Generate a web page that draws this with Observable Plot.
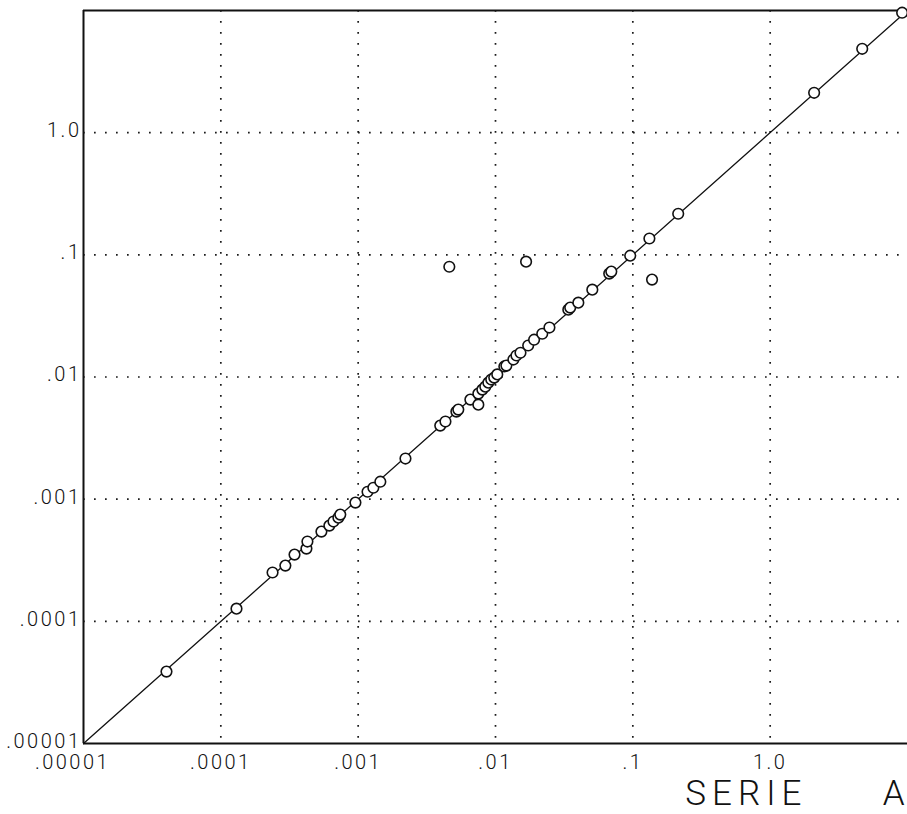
<!DOCTYPE html>
<html><head><meta charset="utf-8">
<script src="https://cdn.jsdelivr.net/npm/d3@7"></script>
<script src="https://cdn.jsdelivr.net/npm/@observablehq/plot@0.6"></script>
<style>
body{margin:0;background:#fff;}
#chart{width:907px;height:814px;overflow:hidden;}
#chart text{font-family:Roboto,"DejaVu Sans",sans-serif;font-weight:300;}
</style></head><body><div id="chart"></div>
<script>
// Series A (x) and Series B (y) values
const serieA = [4.02e-5,1.30e-4,2.38e-4,2.95e-4,3.44e-4,4.20e-4,4.27e-4,5.40e-4,6.17e-4,6.61e-4,7.18e-4,7.41e-4,
  9.55e-4,1.17e-3,1.29e-3,1.45e-3,2.21e-3,3.96e-3,4.32e-3,5.19e-3,5.36e-3,6.56e-3,7.50e-3,7.50e-3,8.02e-3,8.43e-3,
  8.87e-3,9.31e-3,9.79e-3,1.03e-2,1.16e-2,1.20e-2,1.35e-2,1.42e-2,1.52e-2,1.73e-2,1.91e-2,2.19e-2,2.47e-2,3.39e-2,
  3.50e-2,4.01e-2,5.07e-2,6.73e-2,6.97e-2,9.57e-2,0.132,0.214,2.09,4.68,9.14,
  4.61e-3,1.67e-2,0.138];
const serieB = [3.88e-5,1.27e-4,2.51e-4,2.86e-4,3.52e-4,3.94e-4,4.50e-4,5.43e-4,6.08e-4,6.56e-4,7.06e-4,7.48e-4,
  9.38e-4,1.15e-3,1.24e-3,1.39e-3,2.15e-3,4.00e-3,4.32e-3,5.21e-3,5.41e-3,6.53e-3,5.94e-3,7.31e-3,7.89e-3,8.34e-3,
  8.99e-3,9.53e-3,9.89e-3,1.05e-2,1.22e-2,1.24e-2,1.39e-2,1.50e-2,1.58e-2,1.81e-2,2.02e-2,2.26e-2,2.54e-2,3.56e-2,
  3.70e-2,4.06e-2,5.19e-2,7.02e-2,7.29e-2,9.84e-2,0.136,0.217,2.12,4.86,9.59,
  7.99e-2,8.79e-2,6.27e-2];
const tickValues = [1e-5,1e-4,1e-3,1e-2,1e-1,1];
const tickLabels = [".00001",".0001",".001",".01",".1","1.0"];
const gridValues = [1e-4,1e-3,1e-2,1e-1,1];
const axisDomain = [1e-5,10];
const identityLine = [1e-5,10];
const xTitleWord = ["SERIE"];
const xTitleLetter = ["A"];

const points = serieA.map((a,i)=>({a, b: serieB[i]}));
const fmt = d => tickLabels[tickValues.indexOf(d)];
const dotGrid = {stroke:"#1a1a1a", strokeOpacity:1, strokeWidth:1.7, strokeDasharray:"1.7,9.3"};

const chart = Plot.plot({
  width: 907, height: 814,
  marginLeft: 83, marginRight: 0, marginTop: 10, marginBottom: 71,
  x: {type:"log", domain: axisDomain},
  y: {type:"log", domain: axisDomain},
  style: {background:"#fff", color:"#111", fontFamily:"Roboto, 'DejaVu Sans', sans-serif"},
  marks: [
    Plot.gridX(gridValues, dotGrid),
    Plot.gridY(gridValues, dotGrid),
    Plot.line(identityLine, {x: d=>d, y: d=>d, stroke:"#111", strokeWidth:1.3}),
    Plot.ruleX([axisDomain[0]], {stroke:"#111", strokeWidth:2}),
    Plot.ruleY([axisDomain[0]], {stroke:"#111", strokeWidth:2}),
    Plot.ruleY([axisDomain[1]], {stroke:"#111", strokeWidth:2}),
    Plot.dot(points, {x:"a", y:"b", r:5.3, stroke:"#111", strokeWidth:1.6, fill:"#fff"}),
    Plot.axisX(tickValues.slice(1), {tickFormat: fmt, tickSize:0, tickPadding:11, fontSize:20, label:null, fill:"#111"}),
    Plot.axisX(tickValues.slice(0,1), {tickFormat: fmt, tickSize:0, tickPadding:11, fontSize:20, label:null, dx:-11, fill:"#111"}),
    Plot.axisY(tickValues, {tickFormat: fmt, tickSize:0, tickPadding:2, fontSize:20, label:null, dy:-2, fill:"#111"}),
    Plot.text(xTitleWord, {frameAnchor:"bottom-right", text:d=>d, textAnchor:"end", lineAnchor:"bottom", dx:-100, dy:61, fontSize:35, fill:"#111"}),
    Plot.text(xTitleLetter, {frameAnchor:"bottom-right", text:d=>d, textAnchor:"end", lineAnchor:"bottom", dx:-3, dy:61, fontSize:35, fill:"#111"})
  ]
});
chart.querySelectorAll("text").forEach(t=>{
  const s = t.textContent;
  t.style.letterSpacing = s === "SERIE" ? "6px" : s === "A" ? "0px" : "2.5px";
});
document.getElementById("chart").appendChild(chart);
</script>
</body></html>
